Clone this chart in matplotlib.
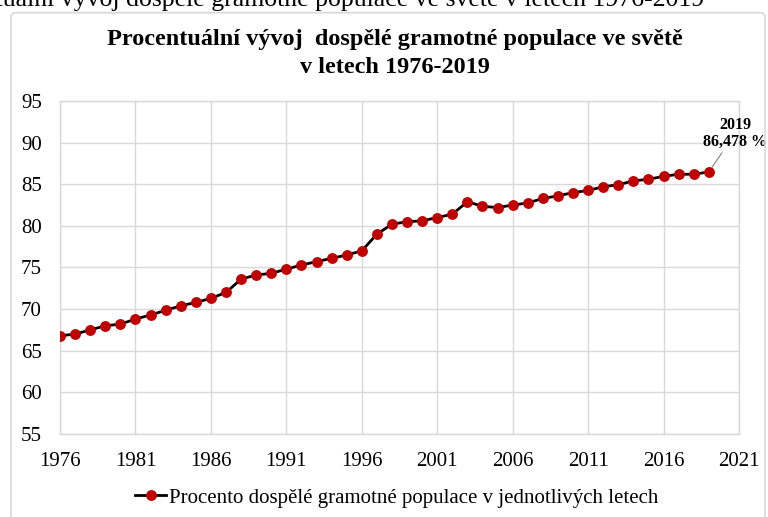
import matplotlib
matplotlib.use("Agg")
import matplotlib.pyplot as plt
from matplotlib.patches import FancyBboxPatch

# -------------------------
# Data
# -------------------------
years = list(range(1976, 2020))
literacy = [
    66.8, 67.0, 67.5, 68.0, 68.2, 68.8, 69.3, 69.85, 70.4, 70.8,
    71.3, 72.0, 73.6, 74.1, 74.3, 74.8, 75.3, 75.7, 76.1, 76.5,
    77.0, 79.0, 80.2, 80.5, 80.6, 81.0, 81.4, 82.9, 82.35, 82.2,
    82.5, 82.75, 83.3, 83.6, 84.0, 84.25, 84.7, 84.95, 85.4, 85.6,
    85.95, 86.2, 86.2, 86.478,
]
x_ticks = list(range(1976, 2022, 5))
y_ticks = list(range(55, 100, 5))

title_1 = "Procentuální vývoj  dospělé gramotné populace ve světě"
title_2 = "v letech 1976-2019"
caption = "Procentuální vývoj dospělé gramotné populace ve světě v letech 1976-2019"
series_label = "Procento dospělé gramotné populace v jednotlivých letech"
note = "2019\n86,478 %"

W, H = 768, 517
plt.rcParams["font.family"] = ["Liberation Serif", "DejaVu Serif"]

fig = plt.figure(figsize=(W / 100, H / 100), dpi=100)
ax = fig.add_axes([60 / W, 1 - 434 / H, (739 - 60) / W, (434 - 101) / H])

# chart frame (cropped screenshot look)
frame = FancyBboxPatch((11 / W, -0.05), (765 - 11) / W, 1 - 12.7 / H + 0.05,
                       boxstyle="round,pad=0,rounding_size=0.008",
                       transform=fig.transFigure, fill=False,
                       edgecolor="#d9d9d9", lw=1.2)
fig.patches.append(frame)

# caption cut off at the top of the screenshot
fig.text(704 / W, 1 - 6 / H, caption, ha="right", va="baseline",
         fontsize=18.5, color="black")

ax.plot(years, literacy, color="black", lw=2, marker="o", markersize=6.8,
        markerfacecolor="#c00000", markeredgecolor="#c00000",
        label=series_label, zorder=3)

ax.set_xlim(1976, 2021)
ax.set_ylim(55, 95)
ax.set_xticks(x_ticks)
ax.set_yticks(y_ticks)
ax.tick_params(length=0, labelsize=15)
ax.tick_params(axis="y", pad=13)
ax.tick_params(axis="x", pad=13)
ax.grid(True, color="#d9d9d9", lw=1)
ax.set_axisbelow(True)
for s in ax.spines.values():
    s.set_color("#d9d9d9")
    s.set_linewidth(1)

ax.annotate(note, xy=(years[-1], literacy[-1]), xytext=(2020.75, 1 - 150 / H),
            textcoords=("data", "figure fraction"),
            ha="center", va="bottom", fontsize=11.5, fontweight="bold",
            linespacing=1.1,
            arrowprops=dict(arrowstyle="-", color="#808080", lw=0.8,
                            shrinkA=0, shrinkB=4),
            annotation_clip=False)

fig.text(395 / W, 1 - 45 / H, title_1, ha="center", va="baseline",
         fontsize=17.5, fontweight="bold")
fig.text(395 / W, 1 - 73 / H, title_2, ha="center", va="baseline",
         fontsize=17.5, fontweight="bold")

fig.legend(loc="center", bbox_to_anchor=(397 / W, 1 - 498 / H),
           frameon=False, fontsize=15, handlelength=1.5,
           handletextpad=0.15)

fig.savefig("out.png", dpi=100)
